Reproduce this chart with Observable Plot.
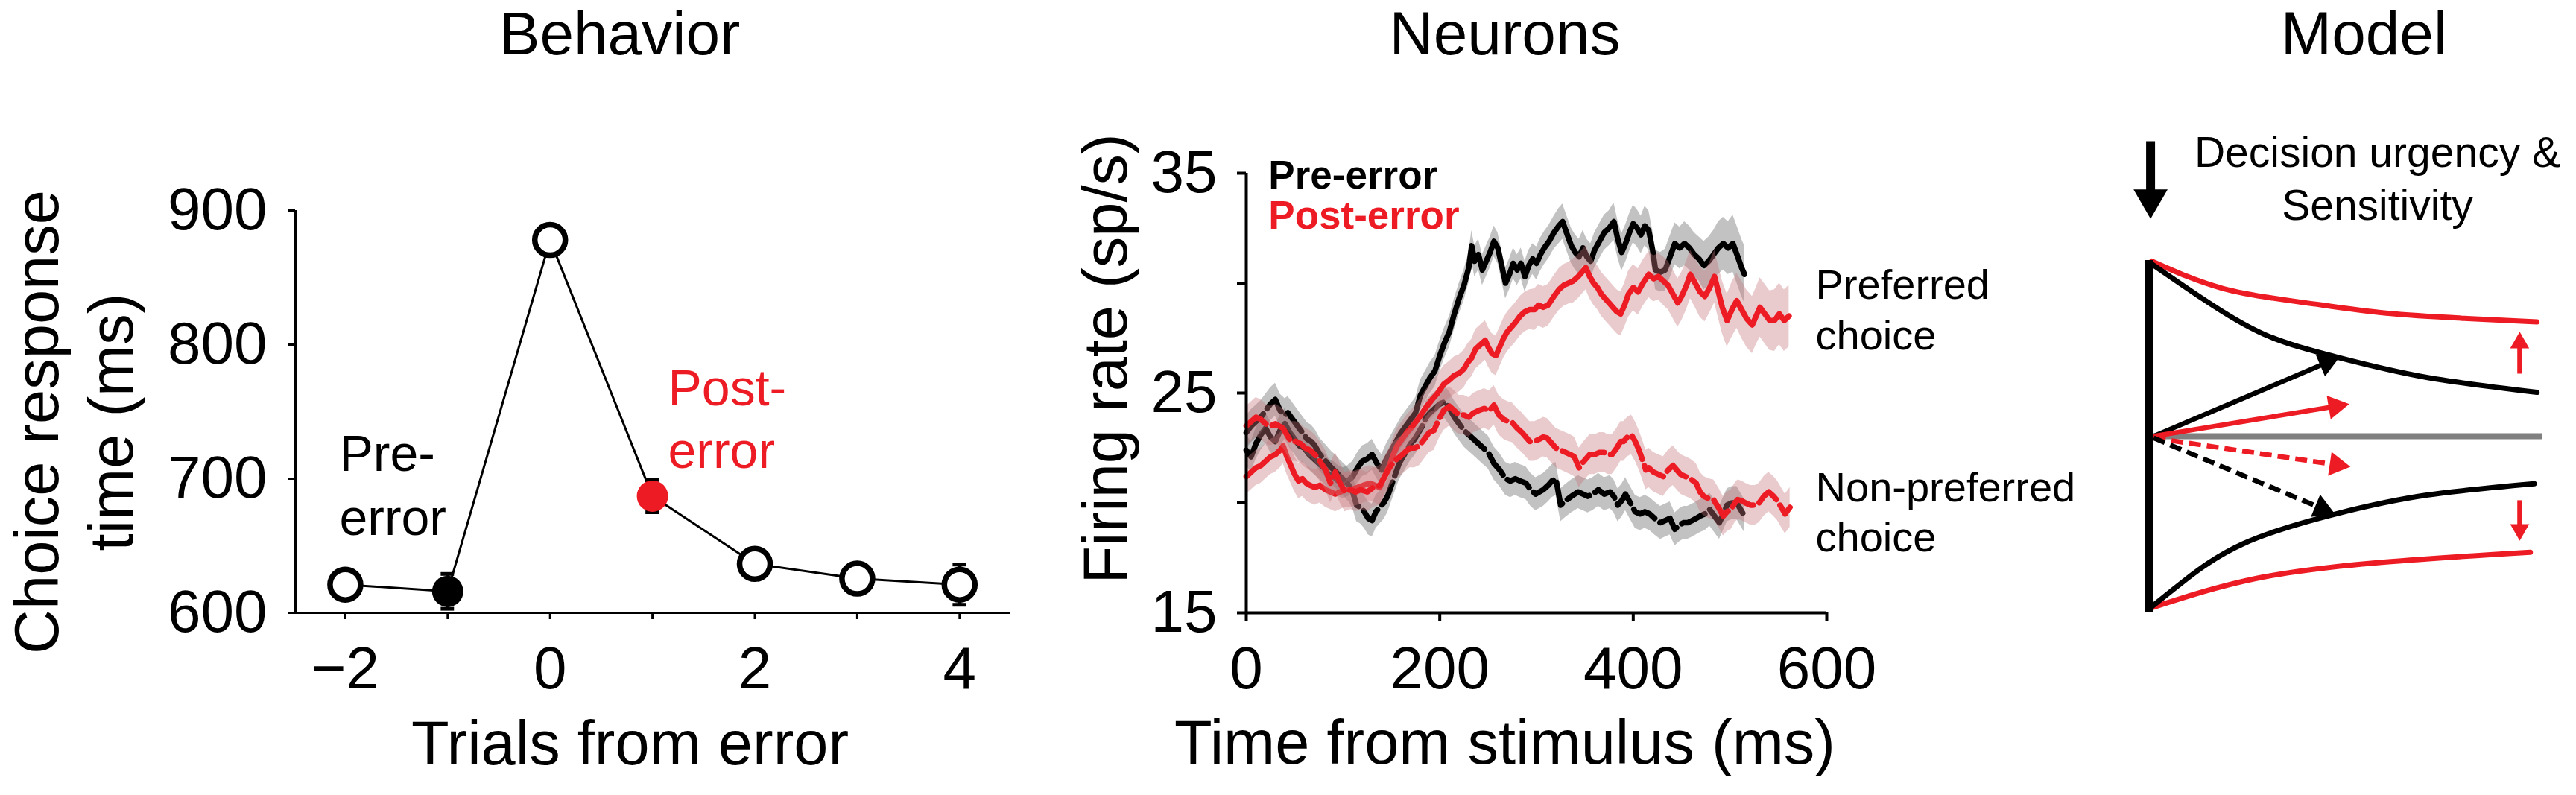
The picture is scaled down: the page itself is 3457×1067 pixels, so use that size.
<!DOCTYPE html>
<html>
<head>
<meta charset="utf-8">
<script src="https://cdn.jsdelivr.net/npm/d3@7"></script>
<script src="https://cdn.jsdelivr.net/npm/@observablehq/plot@0.6"></script>
<style>
  html, body { margin: 0; padding: 0; background: #fff; }
  #fig { position: relative; width: 3457px; height: 1067px; overflow: hidden; }
  #fig > div { position: absolute; top: 0; }
  #fig svg { overflow: visible; display: block; }
</style>
</head>
<body>
<div id="fig">
  <div id="behavior" style="left:0px"></div>
  <div id="neurons" style="left:1400px"></div>
  <div id="model" style="left:2850px"></div>
</div>
<script>
// ---- Behavior: choice RT around an error trial
const trials = [-2, -1, 0, 1, 2, 3, 4];
const rtMean = [621, 616, 878, 687, 636.5, 625.5, 621];
const rtSem = [7, 13, 8, 12, 7, 7, 15];
const rtKind = ["open", "pre", "open", "post", "open", "open", "open"];
const trialTicks = [-2, -1, 0, 1, 2, 3, 4];
const trialLabels = {"-2": "−2", "0": "0", "2": "2", "4": "4"};
const rtTicks = [600, 700, 800, 900];

// ---- Neurons: firing rate traces [time ms, rate sp/s, sem]
const timeTicks = [0, 200, 400, 600];
const rateTicks = [15, 20, 25, 30, 35];
const rateLabels = [15, 25, 35];

const preErrorPref = [
  [0,22.4,.7],[5,22.1,.7],[10,22.7,.7],[15,23.1,.7],[20,23.4,.7],[25,23.0,.7],[30,22.8,.7],[35,23.3,.7],
  [40,23.6,.7],[45,23.2,.7],[50,22.9,.7],[55,22.6,.7],[60,22.5,.7],[65,22.2,.7],[70,22.0,.7],[75,21.8,.7],
  [80,21.6,.7],[85,21.3,.7],[90,21.2,.7],[95,21.0,.7],[100,20.9,.7],[105,21.0,.7],[110,21.2,.7],[115,21.6,.7],
  [120,21.9,.7],[125,22.0,.7],[130,22.2,.7],[135,21.8,.7],[140,21.5,.7],[145,22.0,.7],[150,22.4,.7],[155,22.8,.7],
  [160,23.2,.7],[165,23.5,.7],[170,23.8,.7],[175,24.1,.7],[180,24.9,.7],[185,25.3,.7],[190,25.7,.7],[195,26.0,.7],
  [200,26.7,.7],[205,27.3,.7],[210,27.8,.7],[215,28.6,.7],[220,29.3,.7],[225,29.9,.7],[230,30.7,.7],[233,31.7,.7],
  [236,31.0,.7],[240,31.3,.7],[244,30.6,.7],[248,31.0,.7],[252,31.4,.7],[256,31.9,.7],[260,31.6,.7],[264,30.8,.7],
  [268,30.0,.7],[272,30.4,.7],[276,30.9,.7],[280,30.6,.7],[284,30.9,.7],[288,30.3,.7],[292,30.8,.7],[296,31.1,.7],
  [300,30.9,.75],[304,31.3,.75],[308,31.6,.75],[313,31.9,.75],[318,32.3,.75],[323,32.6,.8],[327,32.8,.8],[331,32.3,.8],
  [336,31.7,.8],[340,31.4,.8],[344,31.2,.8],[348,31.6,.8],[352,31.2,.8],[356,31.0,.8],[360,31.5,.8],[365,31.9,.8],
  [370,32.3,.8],[375,32.5,.8],[380,32.8,.85],[384,32.0,.85],[388,31.4,.85],[392,31.8,.85],[396,32.3,.85],[400,32.7,.85],
  [404,32.5,.85],[408,32.2,.85],[412,32.6,.9],[416,32.4,.9],[420,31.5,.9],[423,30.6,.9],[428,30.5,.9],[433,30.6,.95],
  [438,31.2,.95],[443,31.8,.95],[448,31.6,.95],[453,31.8,1],[458,31.6,1],[463,31.3,1],[468,31.1,1],[473,30.8,1.1],
  [478,31.0,1.1],[483,31.3,1.1],[488,31.6,1.2],[493,31.8,1.2],[498,31.6,1.2],[503,31.8,1.3],[508,31.2,1.3],[512,30.7,1.3],
  [515,30.4,1.3]
];

const postErrorPref = [
  [0,21.2,.8],[5,21.4,.8],[10,21.6,.8],[15,21.7,.8],[20,21.9,.8],[25,22.1,.8],[30,22.2,.8],[35,22.4,.8],
  [38,22.6,.8],[42,22.1,.8],[46,21.7,.8],[50,21.3,.8],[54,21.0,.8],[58,21.1,.8],[62,20.9,.8],[66,20.8,.8],
  [71,20.7,.8],[76,20.8,.8],[82,20.6,.8],[87,20.5,.8],[92,20.4,.8],[97,20.5,.8],[102,20.6,.8],[108,20.6,.8],
  [115,20.7,.8],[121,20.8,.8],[128,20.9,.8],[133,20.8,.8],[138,20.7,.8],[143,21.2,.8],[148,21.7,.8],[152,22.2,.8],
  [156,22.6,.8],[161,22.9,.8],[166,23.2,.8],[172,23.5,.8],[179,23.9,.8],[185,24.3,.8],[192,24.7,.85],[198,25.0,.85],
  [204,25.4,.85],[210,25.6,.85],[215,25.8,.85],[220,25.9,.85],[225,26.1,.85],[229,26.4,.85],[233,26.6,.85],[237,27.0,.9],
  [242,27.2,.9],[247,27.4,.9],[250,27.1,.9],[254,26.8,.9],[258,26.7,.9],[262,27.1,.9],[266,27.5,.9],[270,27.8,.9],
  [274,28.0,.9],[278,28.2,.9],[283,28.5,.9],[288,28.7,.9],[293,28.8,.9],[298,28.8,.95],[302,29.0,.95],[307,28.9,.95],
  [312,29.0,.95],[318,29.4,.95],[323,29.7,.95],[328,29.9,.95],[333,30.0,.95],[338,30.1,1],[343,30.3,1],[347,30.5,1],
  [351,30.7,1],[355,30.3,1],[359,30.0,1],[363,29.8,1],[367,29.5,1],[371,29.3,1],[375,29.1,1],[379,28.9,1],
  [383,28.7,1],[387,28.6,1],[391,29.0,1],[395,29.5,1.05],[400,29.8,1.05],[405,29.6,1.05],[410,30.0,1.05],[416,30.4,1.05],
  [421,30.2,1.05],[426,30.3,1.05],[431,30.1,1.1],[436,29.9,1.1],[441,29.5,1.1],[446,29.1,1.1],[450,29.4,1.1],[455,29.9,1.1],
  [459,30.4,1.1],[464,30.0,1.1],[469,29.6,1.15],[474,29.4,1.15],[479,29.8,1.15],[484,30.3,1.2],[488,29.6,1.2],[492,28.9,1.2],
  [497,28.3,1.2],[502,28.8,1.25],[507,29.2,1.25],[512,28.8,1.3],[517,28.4,1.3],[523,28.1,1.3],[527,28.5,1.3],[531,28.9,1.35],
  [536,28.6,1.35],[541,28.3,1.35],[546,28.3,1.4],[551,28.6,1.4],[556,28.3,1.4],[561,28.5,1.4]
];

const preErrorNonpref = [
  [0,23.2],[5,23.5],[10,23.7],[15,23.9],[20,24.2],[25,24.5],[30,24.7],[35,24.2],[40,24.0],[43,24.1],
  [48,23.8],[53,23.5],[58,23.2],[63,22.9],[67,22.8],[71,22.6],[76,22.2],[80,22.0],[84,21.8],[88,21.6],
  [93,21.4],[97,21.2],[102,21.0],[106,20.8],[110,20.5],[114,19.9],[118,19.8],[122,19.6],[126,19.3],[130,19.2],
  [134,19.6],[138,19.8],[142,20.0],[146,20.3],[150,20.8],[154,21.3],[158,21.8],[162,22.1],[166,22.4],[170,22.7],
  [174,22.9],[178,23.2],[182,23.5],[186,23.9],[190,24.1],[195,24.3],[200,24.5],[205,24.6],[210,24.3],[215,23.9],
  [220,23.6],[225,23.3],[230,23.1],[235,22.9],[240,22.7],[245,22.5],[250,22.3],[256,21.8],[262,21.5],[268,21.1],
  [273,21.0],[278,21.1],[283,21.0],[289,20.9],[294,20.6],[299,20.4],[303,20.5],[307,20.6],[312,20.8],[316,21.0],
  [320,21.1],[325,19.9],[330,20.1],[336,20.3],[343,20.5],[348,20.4],[353,20.3],[358,20.4],[364,20.6],[370,20.4],
  [376,20.5],[380,20.3],[384,19.9],[388,20.1],[392,20.4],[397,20.0],[402,19.6],[407,19.5],[412,19.6],[417,19.5],
  [422,19.3],[428,19.1],[433,19.2],[438,19.3],[443,18.8],[448,19.0],[452,19.1],[456,19.1],[461,19.2],[465,19.3],
  [469,19.4],[474,19.5],[479,19.7],[484,19.4],[489,19.1],[493,19.5],[497,19.9],[502,20.0],[507,20.0],[511,19.7],
  [515,19.4]
];
const preErrorNonprefSem = 0.75;

const postErrorNonpref = [
  [0,23.5],[5,23.7],[10,23.9],[15,23.8],[20,23.6],[25,23.5],[30,23.6],[34,23.5],[38,23.4],[42,23.1],
  [46,22.8],[51,22.8],[56,22.7],[61,22.5],[66,22.4],[71,22.2],[76,21.9],[82,21.5],[87,20.9],[92,21.4],
  [97,20.9],[102,20.5],[108,20.6],[113,20.5],[118,20.6],[125,20.5],[131,20.7],[138,20.8],[143,21.2],[148,21.6],
  [153,21.9],[159,22.1],[164,22.3],[169,22.5],[174,22.5],[179,22.6],[184,22.9],[189,23.2],[194,23.3],[199,23.8],
  [204,24.2],[210,24.4],[215,24.2],[220,24.0],[225,24.0],[230,23.9],[235,24.1],[240,24.2],[246,24.3],[251,24.2],
  [256,24.45],[261,24.0],[266,23.8],[271,23.7],[275,23.65],[280,23.4],[285,23.2],[289,23.0],[293,22.8],[298,22.8],
  [303,22.9],[307,23.0],[311,22.95],[316,22.7],[320,22.5],[325,22.4],[330,22.3],[335,22.2],[339,22.1],[344,21.6],
  [349,21.9],[355,22.2],[360,22.2],[365,22.3],[370,22.3],[374,22.2],[378,22.2],[383,22.5],[387,22.8],[390,22.8],
  [394,23.0],[398,23.1],[402,22.8],[406,22.4],[410,21.9],[413,21.5],[416,21.6],[421,21.4],[426,21.3],[431,21.2],
  [436,21.5],[441,21.7],[445,21.5],[449,21.3],[454,21.2],[459,21.1],[465,20.9],[469,20.5],[473,20.3],[478,20.2],
  [483,20.15],[488,19.8],[493,19.4],[497,19.6],[501,19.7],[505,20.0],[508,20.15],[512,20.1],[516,20.0],[521,19.9],
  [526,19.9],[530,20.0],[535,20.3],[540,20.5],[545,20.3],[549,20.1],[553,19.8],[557,19.5],[562,19.8]
];
const postErrorNonprefSem = 0.9;

// ---- Model: schematic bounds [time, decision variable]
const boundUpperPost = [[0.6,0.996],[18.8,0.84],[39.5,0.76],[60.3,0.70],[81,0.67],[98.7,0.65]];
const boundUpperPre  = [[0.6,0.98],[13.7,0.78],[29.2,0.58],[47.8,0.45],[70.6,0.335],[98.7,0.25]];
const boundLowerPre  = [[0,-0.98],[8.4,-0.83],[24,-0.61],[47.8,-0.44],[70.6,-0.335],[98,-0.27]];
const boundLowerPost = [[0,-0.98],[8.4,-0.92],[29.2,-0.80],[60.3,-0.715],[97,-0.66]];
// arrows: tail (x1,y1) -> tip (x2,y2)
const driftArrows = [
  {x1: 1.1, y1: 0.0,   x2: 48.4, y2: 0.449, color: "black", dashed: false},
  {x1: 1.1, y1: 0.0,   x2: 50.9, y2: 0.183, color: "red",   dashed: false},
  {x1: 1.1, y1: -0.01, x2: 51.2, y2: -0.174, color: "red",  dashed: true},
  {x1: 1.1, y1: -0.01, x2: 47.2, y2: -0.441, color: "black", dashed: true}
];
const boundShiftArrows = [
  {x1: 94.3, y1: 0.356,  x2: 94.3, y2: 0.594},
  {x1: 94.3, y1: -0.364, x2: 94.3, y2: -0.594}
];
const urgencyArrow = [{x1: 0.3, y1: 1.678, x2: 0.3, y2: 1.236}];

// ---- styling
const RED = "#ED1C24";
const FONT = "'Liberation Sans', Arial, Helvetica, sans-serif";
const baseStyle = {fontFamily: FONT, background: "transparent", overflow: "visible", color: "black"};

// ================= Behavior =================
const rt = trials.map((t, i) => ({trial: t, rt: rtMean[i], sem: rtSem[i], kind: rtKind[i]}));

const behavior = Plot.plot({
  width: 1400, height: 1067,
  marginLeft: 396, marginRight: 44, marginTop: 282, marginBottom: 245,
  x: {domain: [-2.487, 4.5], axis: null},
  y: {domain: [600, 900], axis: null},
  style: baseStyle,
  marks: [
    Plot.ruleY([600], {x1: -2.553, x2: 4.5, stroke: "black", strokeWidth: 3}),
    Plot.ruleX([-2.487], {y1: 600, y2: 900, stroke: "black", strokeWidth: 3}),
    Plot.axisX({ticks: trialTicks, tickFormat: d => trialLabels[d] ?? "", tickSize: 9, tickPadding: 36,
      fontSize: 80, strokeWidth: 3, label: null}),
    Plot.axisY({ticks: rtTicks, tickFormat: d => String(d), tickSize: 9, tickPadding: 29,
      fontSize: 80, strokeWidth: 3, label: null}),
    Plot.line(rt, {x: "trial", y: "rt", stroke: "black", strokeWidth: 3}),
    Plot.ruleX(rt, {x: "trial", y1: d => d.rt - d.sem, y2: d => d.rt + d.sem, stroke: "black", strokeWidth: 5}),
    Plot.ruleY(rt, {y: d => d.rt - d.sem, x1: d => d.trial - 0.065, x2: d => d.trial + 0.065, stroke: "black", strokeWidth: 5}),
    Plot.ruleY(rt, {y: d => d.rt + d.sem, x1: d => d.trial - 0.065, x2: d => d.trial + 0.065, stroke: "black", strokeWidth: 5}),
    Plot.dot(rt.filter(d => d.kind === "open"), {x: "trial", y: "rt", r: 20.5, fill: "white", stroke: "black", strokeWidth: 7.5}),
    Plot.dot(rt.filter(d => d.kind === "pre"), {x: "trial", y: "rt", r: 21, fill: "black"}),
    Plot.dot(rt.filter(d => d.kind === "post"), {x: "trial", y: "rt", r: 21, fill: RED}),
    Plot.text(["Pre-\nerror"], {x: -2.058, y: 657.8, text: d => d, textAnchor: "start", lineAnchor: "bottom",
      lineHeight: 1.265, fontSize: 68, fill: "black"}),
    Plot.text(["Post-\nerror"], {x: 1.152, y: 708.3, text: d => d, textAnchor: "start", lineAnchor: "bottom",
      lineHeight: 1.235, fontSize: 68, fill: RED}),
    Plot.text(["Choice response\ntime (ms)"], {frameAnchor: "left", text: d => d, rotate: -90, textAnchor: "middle",
      lineAnchor: "bottom", lineHeight: 1.205, fontSize: 83, dx: -219, dy: 14, fill: "black"}),
    Plot.text(["Trials from error"], {frameAnchor: "bottom", text: d => d, lineAnchor: "bottom",
      fontSize: 83, dx: -31, dy: 203, fill: "black"}),
    Plot.text(["Behavior"], {frameAnchor: "top", text: d => d, lineAnchor: "bottom",
      fontSize: 82, dx: -45, dy: -210, fill: "black"})
  ]
});
document.getElementById("behavior").append(behavior);

// ================= Neurons =================
const bandMarks = (data, sem, fill) => Plot.areaY(data, {
  x: d => d[0],
  y1: d => d[1] - (sem ?? d[2]),
  y2: d => d[1] + (sem ?? d[2]),
  fill, fillOpacity: 0.38
});
const traceMark = (data, stroke, dashed) => Plot.line(data, {
  x: d => d[0], y: d => d[1], stroke, strokeWidth: 7.5, strokeLinejoin: "round",
  strokeDasharray: dashed ? "34,9" : null
});
const GRAY_BAND = "#5e5e5e";
const RED_BAND = "#c9777c";

const neurons = Plot.plot({
  width: 1450, height: 1067,
  marginLeft: 272, marginRight: 399, marginTop: 232, marginBottom: 245,
  x: {domain: [0, 600], axis: null},
  y: {domain: [15, 35], axis: null},
  style: baseStyle,
  marks: [
    bandMarks(preErrorPref, null, GRAY_BAND),
    traceMark(preErrorPref, "black", false),
    bandMarks(preErrorNonpref, preErrorNonprefSem, GRAY_BAND),
    traceMark(preErrorNonpref, "black", true),
    bandMarks(postErrorPref, null, RED_BAND),
    traceMark(postErrorPref, RED, false),
    bandMarks(postErrorNonpref, postErrorNonprefSem, RED_BAND),
    traceMark(postErrorNonpref, RED, true),
    Plot.ruleY([15], {x1: 0, x2: 600, stroke: "black", strokeWidth: 4}),
    Plot.ruleX([0], {y1: 15, y2: 35, stroke: "black", strokeWidth: 4}),
    Plot.axisX({ticks: timeTicks, tickFormat: d => String(d), tickSize: 11, tickPadding: 34,
      fontSize: 80, strokeWidth: 4, label: null}),
    Plot.axisY({ticks: rateTicks, tickFormat: d => rateLabels.includes(d) ? String(d) : "", tickSize: 12,
      tickPadding: 27, fontSize: 80, strokeWidth: 4, label: null}),
    Plot.text(["Pre-error"], {x: 23, y: 34.32, text: d => d, textAnchor: "start", lineAnchor: "bottom",
      fontSize: 53, fontWeight: "bold", fill: "black"}),
    Plot.text(["Post-error"], {x: 23, y: 32.46, text: d => d, textAnchor: "start", lineAnchor: "bottom",
      fontSize: 53, fontWeight: "bold", fill: RED}),
    Plot.text(["Preferred\nchoice"], {x: 588.5, y: 27.0, text: d => d, textAnchor: "start", lineAnchor: "bottom",
      lineHeight: 1.214, fontSize: 56, fill: "black"}),
    Plot.text(["Non-preferred\nchoice"], {x: 588.5, y: 17.78, text: d => d, textAnchor: "start", lineAnchor: "bottom",
      lineHeight: 1.214, fontSize: 56, fill: "black"}),
    Plot.text(["Firing rate (sp/s)"], {frameAnchor: "left", text: d => d, rotate: -90, textAnchor: "middle",
      lineAnchor: "bottom", fontSize: 83, dx: -161, dy: -46, fill: "black"}),
    Plot.text(["Time from stimulus (ms)"], {frameAnchor: "bottom", text: d => d, lineAnchor: "bottom",
      fontSize: 83, dx: -42.5, dy: 202, fill: "black"}),
    Plot.text(["Neurons"], {frameAnchor: "top", text: d => d, lineAnchor: "bottom",
      fontSize: 82, dx: -42.5, dy: -160, fill: "black"})
  ]
});
document.getElementById("neurons").append(neurons);

// ================= Model =================
const M = {width: 607, height: 1067, marginLeft: 34, marginRight: 46, marginTop: 349, marginBottom: 246};
const xDomain = [0, 100], yDomain = [-1, 1];
const pxPerX = (M.width - M.marginLeft - M.marginRight) / (xDomain[1] - xDomain[0]);
const pxPerY = (M.height - M.marginTop - M.marginBottom) / (yDomain[1] - yDomain[0]);

// triangle head: centroid pulled back from the tip along the arrow, plus its rotation
function head(a, r) {
  const dx = (a.x2 - a.x1) * pxPerX, dy = -(a.y2 - a.y1) * pxPerY;
  const len = Math.hypot(dx, dy), back = 1.555 * r;
  return {
    x: a.x2 - (dx / len) * back / pxPerX,
    y: a.y2 + (dy / len) * back / pxPerY,
    angle: Math.atan2(dy, dx) * 180 / Math.PI + 90
  };
}
function arrowMarks(a, {color, width, r, dashed}) {
  const h = head(a, r);
  return [
    Plot.link([a], {x1: "x1", y1: "y1", x2: () => h.x, y2: () => h.y, stroke: color, strokeWidth: width,
      strokeDasharray: dashed ? "16,8" : null}),
    Plot.dot([h], {x: "x", y: "y", r, symbol: "triangle", rotate: h.angle, fill: color, stroke: null})
  ];
}
const curve = (data, stroke) => Plot.line(data, {x: d => d[0], y: d => d[1], stroke, strokeWidth: 7, curve: "natural"});

const model = Plot.plot({
  ...M,
  x: {domain: xDomain, axis: null},
  y: {domain: yDomain, axis: null},
  style: baseStyle,
  marks: [
    Plot.ruleY([0], {x1: 1, x2: 100, stroke: "#808080", strokeWidth: 8}),
    ...driftArrows.flatMap(a => arrowMarks(a, {color: a.color === "red" ? RED : "black", width: 6.5, r: 12, dashed: a.dashed})),
    curve(boundUpperPost, RED),
    curve(boundLowerPost, RED),
    curve(boundUpperPre, "black"),
    curve(boundLowerPre, "black"),
    Plot.ruleX([0], {y1: -1, y2: 1, stroke: "black", strokeWidth: 11}),
    ...boundShiftArrows.flatMap(a => arrowMarks(a, {color: RED, width: 6.5, r: 9.5, dashed: false})),
    ...urgencyArrow.flatMap(a => arrowMarks(a, {color: "black", width: 12, r: 17, dashed: false})),
    Plot.text(["Decision urgency &\nSensitivity"], {x: 58.06, y: 1.229, text: d => d, textAnchor: "middle",
      lineAnchor: "bottom", lineHeight: 1.246, fontSize: 57, fill: "black"}),
    Plot.text(["Model"], {frameAnchor: "top", text: d => d, lineAnchor: "bottom",
      fontSize: 82, dx: 24.5, dy: -277, fill: "black"})
  ]
});
document.getElementById("model").append(model);
</script>
</body>
</html>
